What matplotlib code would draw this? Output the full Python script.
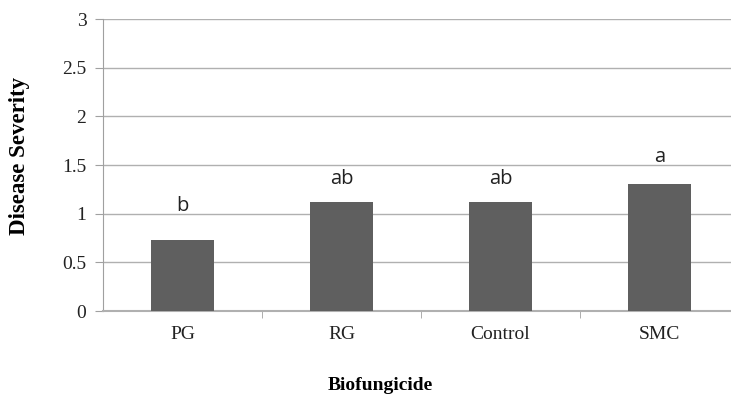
import matplotlib
matplotlib.use("Agg")
import matplotlib.pyplot as plt
import numpy as np

categories = ["PG", "RG", "Control", "SMC"]
severity = [0.73, 1.12, 1.12, 1.30]
letters = ["b", "ab", "ab", "a"]
letter_y = [1.03, 1.30, 1.30, 1.535]

fig = plt.figure(figsize=(7.31, 3.98), dpi=100)
ax = fig.add_axes([103 / 731, 1 - 311 / 398, 636 / 731, 292 / 398])

x = np.arange(len(categories))
ax.bar(x, severity, width=0.4, color="#5f5f5f", zorder=3)

for xi, lab, ly in zip(x, letters, letter_y):
    ax.text(xi, ly, lab, ha="center", va="baseline", fontsize=14.5,
            family="Open Sans", color="#222222")

ax.set_xlim(-0.5, len(categories) - 0.5)
ax.set_ylim(0, 3)
ax.set_yticks(np.arange(0, 3.01, 0.5))
ax.set_yticklabels(["0", "0.5", "1", "1.5", "2", "2.5", "3"])
ax.set_xticks(x)
ax.set_xticklabels(categories)
ax.set_xticks(np.arange(0.5, len(categories) - 0.5, 1), minor=True)

for lab in ax.get_xticklabels() + ax.get_yticklabels():
    lab.set_family("Liberation Serif")
    lab.set_fontsize(14)
    lab.set_color("#222222")

ax.tick_params(axis="x", which="major", length=0, pad=11)
ax.tick_params(axis="x", which="minor", length=5, color="#a0a0a0", direction="out")
ax.tick_params(axis="y", length=6, color="#a0a0a0", pad=6)

ax.yaxis.grid(True, color="#b0b0b0", linewidth=1, zorder=0)
ax.set_axisbelow(True)
for side in ["top", "right"]:
    ax.spines[side].set_visible(False)
ax.spines["left"].set_color("#a0a0a0")
ax.spines["bottom"].set_color("#b0b0b0")
ax.spines["bottom"].set_linewidth(1.5)

fig.text(20 / 731, 1 - 156 / 398, "Disease Severity", rotation=90, ha="center",
         va="center", fontsize=16.5, fontweight="bold", family="Liberation Serif")
fig.text(380 / 731, 1 - 385 / 398, "Biofungicide", ha="center", va="center",
         fontsize=14, fontweight="bold", family="Liberation Serif")

fig.savefig("out.png", dpi=100)
